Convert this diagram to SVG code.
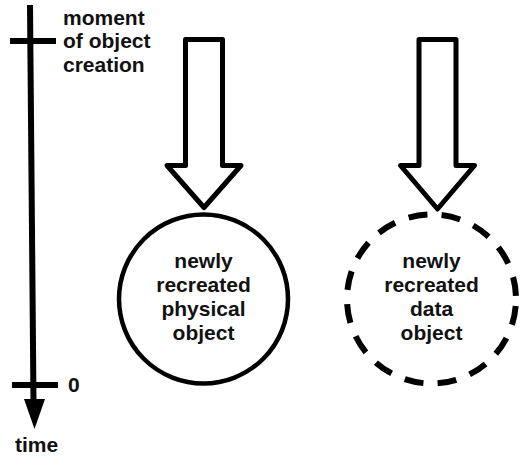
<svg xmlns="http://www.w3.org/2000/svg" width="523" height="465" viewBox="0 0 523 465">
<style>
  text { font-family: "Liberation Sans", Arial, sans-serif; font-weight: bold; font-size: 21px; fill: #111; }
  .mid { text-anchor: middle; }
  .arrow { fill: #fff; stroke: #000; stroke-width: 5; stroke-linejoin: round; }
  .node { fill: #fff; stroke: #000; stroke-width: 4.5; }
  .dashed { stroke-width: 6; stroke-dasharray: 19 14.38; stroke-dashoffset: 26.19; }
  .axis { stroke: #000; stroke-width: 6; fill: none; }
</style>
<rect width="523" height="465" fill="#fff"/>
<g id="timeline">
  <line class="axis" x1="30" y1="5" x2="33.5" y2="402"/>
  <line class="axis" x1="10" y1="41" x2="56" y2="41"/>
  <line class="axis" x1="12" y1="385" x2="58" y2="385"/>
  <polygon points="24,399 45,399 34.5,429" fill="#000"/>
  <text x="63" y="24.5">moment</text>
  <text x="63" y="48">of object</text>
  <text x="63" y="71.5">creation</text>
  <text x="68" y="392">0</text>
  <text x="15" y="452">time</text>
</g>
<g id="connectors">
  <path class="arrow" d="M185.5,39.5 H222.5 V165.5 H241 L204,207.5 L167,165.5 H185.5 Z"/>
  <path class="arrow" d="M419,39.5 H456 V165.5 H474.5 L437.5,209 L400.5,165.5 H419 Z"/>
</g>
<g id="physical">
  <circle class="node" cx="203.5" cy="299" r="84.5"/>
  <text class="mid" x="203.5" y="268">newly</text>
  <text class="mid" x="203.5" y="292">recreated</text>
  <text class="mid" x="203.5" y="316">physical</text>
  <text class="mid" x="203.5" y="340">object</text>
</g>
<g id="data">
  <circle class="node dashed" cx="431.5" cy="299" r="84.5"/>
  <text class="mid" x="431.5" y="268">newly</text>
  <text class="mid" x="431.5" y="292">recreated</text>
  <text class="mid" x="431.5" y="316">data</text>
  <text class="mid" x="431.5" y="340">object</text>
</g>
</svg>
